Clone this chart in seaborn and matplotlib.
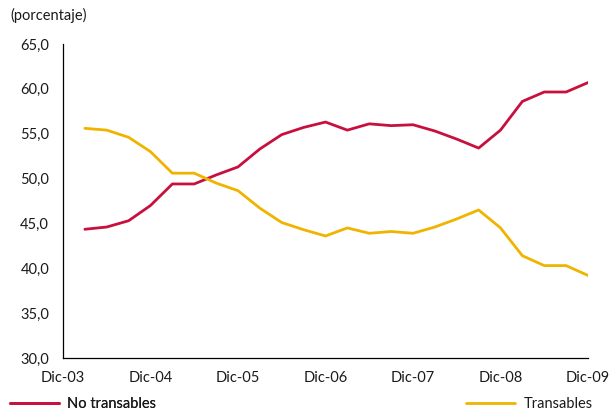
import matplotlib
matplotlib.use("Agg")
import matplotlib.pyplot as plt
import seaborn as sns
import pandas as pd
import numpy as np

# Quarterly data, Mar-04 .. Dic-09
quarters = list(range(1, 25))
no_transables = [44.35, 44.6, 45.3, 47.0, 49.4, 49.4, 50.4, 51.3, 53.3, 54.9, 55.7, 56.3,
                 55.4, 56.1, 55.9, 56.0, 55.3, 54.4, 53.4, 55.4, 58.6, 59.65, 59.65, 60.7]
transables = [55.6, 55.4, 54.6, 53.0, 50.6, 50.6, 49.5, 48.65, 46.7, 45.1, 44.3, 43.6,
              44.5, 43.9, 44.1, 43.9, 44.6, 45.5, 46.5, 44.5, 41.4, 40.3, 40.3, 39.2]
tick_pos = [0, 4, 8, 12, 16, 20, 24]
tick_labels = ["Dic-03", "Dic-04", "Dic-05", "Dic-06", "Dic-07", "Dic-08", "Dic-09"]
y_ticks = [30, 35, 40, 45, 50, 55, 60, 65]

df = pd.DataFrame({
    "q": quarters * 2,
    "valor": no_transables + transables,
    "serie": ["No transables"] * 24 + ["Transables"] * 24,
})

sns.set_style("white")
plt.rcParams["font.family"] = ["Lato", "DejaVu Sans"]

fig = plt.figure(figsize=(6.14, 4.13), dpi=100)
ax = fig.add_axes([63 / 614, 55 / 413, 525 / 614, 314 / 413])

palette = {"No transables": "#C8103E", "Transables": "#F0B400"}
sns.lineplot(data=df, x="q", y="valor", hue="serie", palette=palette, linewidth=2.0,
             ax=ax, legend=False)

ax.set_xlim(0, 24)
ax.set_ylim(30, 65)
ax.set_xticks(tick_pos)
ax.set_xticklabels(tick_labels)
ax.set_yticks(y_ticks)
ax.set_yticklabels([f"{v:.1f}".replace(".", ",") for v in y_ticks])
ax.set_xlabel("")
ax.set_ylabel("")
for s in ["top", "right"]:
    ax.spines[s].set_visible(False)
for s in ["left", "bottom"]:
    ax.spines[s].set_color("black")
    ax.spines[s].set_linewidth(0.9)
ax.tick_params(axis="both", direction="in", length=4, width=0.9, color="black",
               labelsize=10.5, labelcolor="#1a1a1a")
ax.tick_params(axis="x", pad=9)
ax.tick_params(axis="y", pad=10)

fig.text(10 / 614, 1 - 15 / 413, "(porcentaje)", fontsize=10.5, color="#1a1a1a",
         va="center", ha="left")

from matplotlib.lines import Line2D
h1 = Line2D([], [], color=palette["No transables"], linewidth=2.0)
h2 = Line2D([], [], color=palette["Transables"], linewidth=2.0)
leg_kw = dict(frameon=False, fontsize=10.5, handlelength=3.4, handletextpad=0.55,
              borderaxespad=0, borderpad=0.3, labelcolor="#1a1a1a")
leg1 = fig.legend([h1], ["No transables"], loc="center left",
                  bbox_to_anchor=(5.5 / 614, 1 - 404 / 413), **leg_kw)
leg2 = fig.legend([h2], ["Transables"], loc="center left",
                  bbox_to_anchor=(461.5 / 614, 1 - 404 / 413), **leg_kw)
fig.add_artist(leg1)

fig.savefig("out.png", dpi=100)
